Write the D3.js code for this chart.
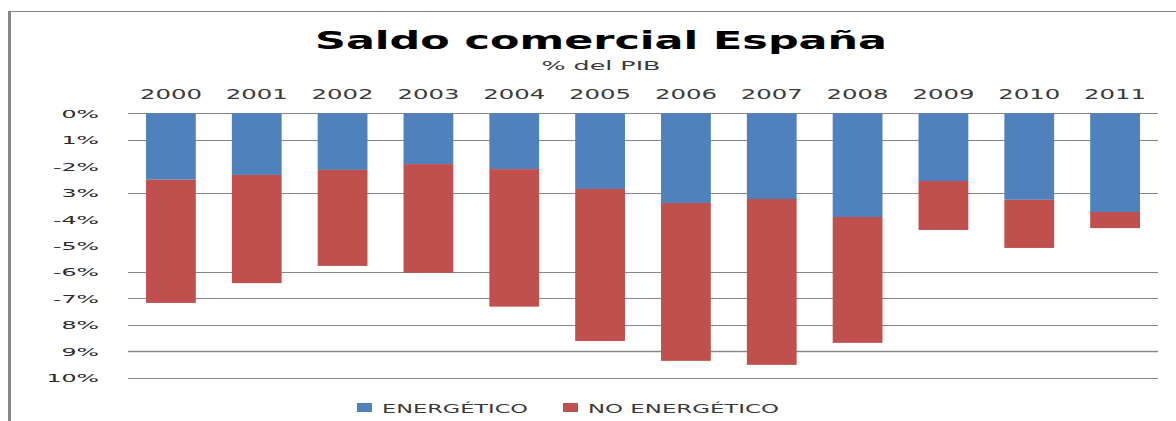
<!DOCTYPE html>
<html lang="es">
<head>
<meta charset="UTF-8">
<script src="https://d3js.org/d3.v7.min.js"></script>
<style>
  body { margin: 0; background: #fff; }
  svg { display: block; font-family: "DejaVu Sans", sans-serif; }
</style>
</head>
<body>
<svg id="chart"></svg>
<script>
// datos (% del PIB)
const years = ["2000","2001","2002","2003","2004","2005","2006","2007","2008","2009","2010","2011"];
const energetico   = [-2.51, -2.33, -2.14, -1.92, -2.11, -2.86, -3.39, -3.24, -3.92, -2.56, -3.27, -3.73];
const noEnergetico = [-4.66, -4.09, -3.63, -4.11, -5.20, -5.75, -5.97, -6.27, -4.76, -1.85, -1.82, -0.61];
const yTicks  = [0, -1, -2, -3, -4, -5, -6, -7, -8, -9, -10];
const yLabels = ["0%", "1%", "-2%", "3%", "-4%", "-5%", "-6%", "-7%", "8%", "9%", "10%"];
const gridVals = [0, -1, -3, -6, -7, -8, -9, -10];
const seriesNames = ["ENERGÉTICO", "NO ENERGÉTICO"];
const colors = ["#4F81BD", "#C0504D"];

const W = 1176, H = 421;
const svg = d3.select("#chart").attr("width", W).attr("height", H);

// marco del grafico
svg.append("path")
  .attr("d", `M9.5,${H} V11.5 H${W}`)
  .attr("fill", "none")
  .attr("stroke", "#878787")
  .attr("stroke-width", 1);
svg.append("line")
  .attr("x1", 9.5).attr("x2", 9.5).attr("y1", 11).attr("y2", H)
  .attr("stroke", "#878787").attr("stroke-width", 3);

const x = d3.scaleBand()
  .domain(years)
  .range([128, 1158])
  .paddingInner(0.42)
  .paddingOuter(0.21);

const y = d3.scaleLinear()
  .domain([0, -10])
  .range([113.3, 377.8]);

// lineas de division
svg.append("g").selectAll("line")
  .data(gridVals)
  .enter().append("line")
  .attr("x1", 128).attr("x2", 1158)
  .attr("y1", d => Math.round(y(d)) + 0.5)
  .attr("y2", d => Math.round(y(d)) + 0.5)
  .attr("stroke", "#878787")
  .attr("stroke-width", d => d === -9 ? 1.6 : 1);

// apilado hacia abajo
const rows = years.map((yr, i) => ({ year: yr, e: energetico[i], n: noEnergetico[i] }));
const stack = d3.stack()
  .keys(["e", "n"])
  .offset(d3.stackOffsetDiverging);
const layers = stack(rows);

svg.append("g").selectAll("g")
  .data(layers)
  .enter().append("g")
  .attr("fill", (d, i) => colors[i])
  .selectAll("rect")
  .data(d => d)
  .enter().append("rect")
  .attr("x", d => x(d.data.year))
  .attr("width", x.bandwidth())
  .attr("y", d => y(Math.max(d[0], d[1])))
  .attr("height", d => Math.abs(y(d[1]) - y(d[0])));

// etiquetas de los años arriba
const xAxis = svg.append("g")
  .attr("transform", "translate(0,99)")
  .call(d3.axisTop(x).tickSize(0).tickPadding(0));
xAxis.select(".domain").remove();
xAxis.selectAll("text")
  .attr("dy", 0)
  .attr("y", 0)
  .attr("font-family", "DejaVu Sans")
  .attr("font-size", 14)
  .attr("fill", "#3a3a3a")
  .attr("textLength", 62)
  .attr("lengthAdjust", "spacingAndGlyphs");

// eje y
const yAxis = svg.append("g")
  .attr("transform", "translate(128,0)")
  .call(d3.axisLeft(y).tickValues(yTicks).tickSize(0).tickPadding(29)
    .tickFormat((d, i) => yLabels[i]));
yAxis.select(".domain").remove();
yAxis.selectAll("text")
  .attr("font-family", "DejaVu Sans")
  .attr("font-size", 11)
  .attr("fill", "#2a2a2a")
  .attr("dy", "0.36em")
  .each(function () {
    const t = d3.select(this);
    const len = this.getComputedTextLength();
    t.attr("textLength", len * 2.15).attr("lengthAdjust", "spacingAndGlyphs");
  });

// titulo
svg.append("text")
  .attr("x", 601).attr("y", 49)
  .attr("text-anchor", "middle")
  .attr("font-size", 24)
  .attr("font-weight", "bold")
  .attr("fill", "#000")
  .attr("textLength", 572)
  .attr("lengthAdjust", "spacingAndGlyphs")
  .text("Saldo comercial España");

svg.append("text")
  .attr("x", 601).attr("y", 70)
  .attr("text-anchor", "middle")
  .attr("font-size", 12)
  .attr("fill", "#3a3a3a")
  .attr("textLength", 119)
  .attr("lengthAdjust", "spacingAndGlyphs")
  .text("% del PIB");

// leyenda
const legendPos = [{ sx: 357, tx: 382, tl: 146 }, { sx: 563, tx: 588, tl: 191 }];
const legend = svg.append("g").selectAll("g")
  .data(seriesNames)
  .enter().append("g");
legend.append("rect")
  .attr("x", (d, i) => legendPos[i].sx)
  .attr("y", 403)
  .attr("width", 15).attr("height", 9)
  .attr("fill", (d, i) => colors[i]);
legend.append("text")
  .attr("x", (d, i) => legendPos[i].tx)
  .attr("y", 413)
  .attr("font-size", 13)
  .attr("fill", "#3a3a3a")
  .attr("textLength", (d, i) => legendPos[i].tl)
  .attr("lengthAdjust", "spacingAndGlyphs")
  .text(d => d);
</script>
</body>
</html>
